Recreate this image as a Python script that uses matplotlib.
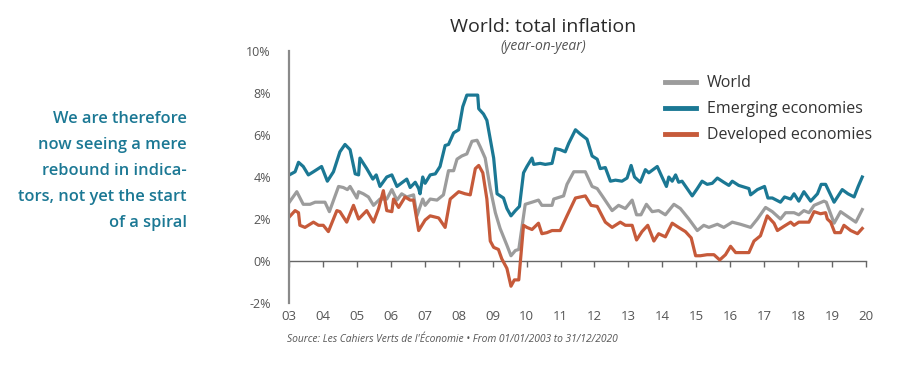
import matplotlib
matplotlib.use('Agg')
import matplotlib.pyplot as plt

## series (x = fractional year, y = % yoy)
emerging_x = [2003.01, 2003.18, 2003.28, 2003.42, 2003.57, 2003.72, 2003.96, 2004.13, 2004.31, 2004.50,
              2004.65, 2004.80, 2004.95, 2005.05, 2005.09, 2005.29, 2005.47, 2005.57, 2005.68, 2005.88,
              2006.03, 2006.18, 2006.47, 2006.57, 2006.72, 2006.82, 2006.86, 2006.94, 2007.01, 2007.16,
              2007.31, 2007.45, 2007.60, 2007.70, 2007.85, 2008.00, 2008.12, 2008.24, 2008.56, 2008.59,
              2008.73, 2008.83, 2009.03, 2009.13, 2009.32, 2009.42, 2009.54, 2009.67, 2009.79, 2009.91,
              2010.01, 2010.16, 2010.21, 2010.40, 2010.55, 2010.75, 2010.85, 2010.99, 2011.14, 2011.24,
              2011.44, 2011.58, 2011.78, 2011.93, 2012.08, 2012.17, 2012.32, 2012.47, 2012.62, 2012.81,
              2012.96, 2013.08, 2013.18, 2013.35, 2013.50, 2013.60, 2013.85, 2013.99, 2014.12, 2014.19,
              2014.29, 2014.39, 2014.48, 2014.58, 2014.88, 2015.03, 2015.17, 2015.32, 2015.47, 2015.62,
              2015.81, 2015.96, 2016.06, 2016.25, 2016.55, 2016.60, 2016.80, 2017.01, 2017.11, 2017.24,
              2017.48, 2017.60, 2017.78, 2017.88, 2018.02, 2018.17, 2018.37, 2018.57, 2018.68, 2018.81,
              2019.06, 2019.30, 2019.47, 2019.65, 2019.77, 2019.89]
emerging_y = [4.1, 4.25, 4.7, 4.5, 4.1, 4.25, 4.5, 3.8, 4.25, 5.2,
              5.55, 5.3, 4.15, 4.1, 4.9, 4.4, 3.9, 4.1, 3.55, 4.0,
              4.1, 3.55, 3.9, 3.5, 3.75, 3.45, 3.2, 4.0, 3.7, 4.1,
              4.15, 4.5, 5.5, 5.55, 6.1, 6.25, 7.35, 7.9, 7.9, 7.25,
              7.0, 6.7, 4.9, 3.2, 3.0, 2.5, 2.15, 2.4, 2.6, 4.2,
              4.5, 4.9, 4.6, 4.65, 4.6, 4.65, 5.35, 5.3, 5.2, 5.6,
              6.25, 6.05, 5.8, 5.0, 4.85, 4.4, 4.45, 3.8, 3.85, 3.8,
              3.95, 4.55, 4.0, 3.75, 4.35, 4.2, 4.5, 4.0, 3.55, 4.0,
              3.8, 4.1, 3.75, 3.8, 3.1, 3.45, 3.8, 3.65, 3.7, 3.95,
              3.75, 3.6, 3.8, 3.6, 3.45, 3.15, 3.4, 3.55, 3.0, 3.0,
              2.8, 3.05, 2.95, 3.2, 2.85, 3.3, 2.85, 3.2, 3.65, 3.65,
              2.8, 3.4, 3.2, 3.05, 3.55, 4.0]

world_x = [2003.01, 2003.23, 2003.42, 2003.62, 2003.77, 2004.06, 2004.19, 2004.46, 2004.60, 2004.72,
           2004.80, 2005.00, 2005.05, 2005.19, 2005.34, 2005.49, 2005.68, 2005.88, 2006.03, 2006.18,
           2006.32, 2006.47, 2006.67, 2006.77, 2006.94, 2007.01, 2007.16, 2007.36, 2007.55, 2007.70,
           2007.85, 2007.95, 2008.09, 2008.24, 2008.39, 2008.54, 2008.63, 2008.78, 2008.93, 2009.08,
           2009.22, 2009.42, 2009.54, 2009.67, 2009.77, 2009.96, 2010.16, 2010.35, 2010.45, 2010.75,
           2010.80, 2011.09, 2011.19, 2011.39, 2011.73, 2011.93, 2012.08, 2012.27, 2012.52, 2012.71,
           2012.91, 2013.11, 2013.24, 2013.37, 2013.53, 2013.70, 2013.89, 2014.09, 2014.34, 2014.53,
           2014.78, 2015.03, 2015.22, 2015.37, 2015.62, 2015.81, 2016.06, 2016.30, 2016.60, 2016.80,
           2017.04, 2017.24, 2017.48, 2017.63, 2017.88, 2018.02, 2018.17, 2018.32, 2018.47, 2018.76,
           2018.83, 2019.06, 2019.25, 2019.70, 2019.89]
world_y = [2.8, 3.3, 2.7, 2.7, 2.8, 2.8, 2.35, 3.55, 3.5, 3.4,
           3.55, 3.0, 3.3, 3.2, 3.05, 2.65, 2.95, 2.95, 3.4, 2.9,
           3.2, 3.05, 3.15, 2.15, 2.95, 2.65, 2.95, 2.9, 3.15, 4.3,
           4.3, 4.85, 5.0, 5.1, 5.7, 5.75, 5.45, 4.9, 3.45, 2.3,
           1.55, 0.75, 0.25, 0.5, 0.55, 2.7, 2.8, 2.9, 2.65, 2.65,
           2.95, 3.1, 3.65, 4.25, 4.25, 3.55, 3.45, 3.0, 2.4, 2.65,
           2.5, 2.9, 2.2, 2.2, 2.7, 2.35, 2.4, 2.2, 2.7, 2.5,
           2.0, 1.45, 1.7, 1.6, 1.75, 1.6, 1.85, 1.75, 1.6, 2.0,
           2.55, 2.35, 2.0, 2.3, 2.3, 2.2, 2.4, 2.3, 2.65, 2.85,
           2.8, 1.8, 2.35, 1.85, 2.45]

developed_x = [2003.01, 2003.18, 2003.28, 2003.32, 2003.47, 2003.72, 2003.87, 2004.01, 2004.16, 2004.41,
               2004.50, 2004.70, 2004.90, 2005.05, 2005.29, 2005.49, 2005.64, 2005.78, 2005.88, 2006.03,
               2006.08, 2006.23, 2006.42, 2006.57, 2006.67, 2006.82, 2007.01, 2007.16, 2007.41, 2007.60,
               2007.75, 2008.00, 2008.19, 2008.34, 2008.49, 2008.59, 2008.71, 2008.83, 2008.93, 2009.03,
               2009.17, 2009.27, 2009.42, 2009.54, 2009.64, 2009.77, 2009.91, 2010.01, 2010.16, 2010.35,
               2010.45, 2010.60, 2010.75, 2010.99, 2011.19, 2011.44, 2011.73, 2011.90, 2012.08, 2012.32,
               2012.52, 2012.76, 2012.91, 2013.11, 2013.24, 2013.40, 2013.57, 2013.75, 2013.89, 2014.09,
               2014.29, 2014.48, 2014.68, 2014.85, 2014.98, 2015.12, 2015.32, 2015.52, 2015.69, 2015.86,
               2016.01, 2016.16, 2016.55, 2016.70, 2016.89, 2017.09, 2017.29, 2017.39, 2017.58, 2017.78,
               2017.88, 2018.02, 2018.32, 2018.47, 2018.66, 2018.81, 2018.86, 2018.96, 2019.08, 2019.25,
               2019.35, 2019.55, 2019.75, 2019.89]
developed_y = [2.1, 2.4, 2.3, 1.7, 1.6, 1.85, 1.7, 1.7, 1.4, 2.4,
               2.35, 1.85, 2.65, 2.0, 2.4, 1.85, 2.5, 3.35, 2.4, 2.35,
               2.95, 2.55, 3.05, 2.9, 2.9, 1.45, 1.95, 2.15, 2.05, 1.6,
               2.95, 3.3, 3.2, 3.15, 4.4, 4.55, 4.2, 2.95, 0.95, 0.65,
               0.55, 0.1, -0.35, -1.2, -0.9, -0.9, 1.7, 1.6, 1.5, 1.8,
               1.3, 1.35, 1.45, 1.45, 2.15, 3.0, 3.1, 2.65, 2.6, 1.85,
               1.6, 1.85, 1.7, 1.7, 1.0, 1.4, 1.7, 0.95, 1.3, 1.15,
               1.8, 1.6, 1.4, 1.1, 0.25, 0.25, 0.3, 0.3, 0.05, 0.3,
               0.7, 0.4, 0.4, 0.95, 1.2, 2.15, 1.8, 1.45, 1.65, 1.85,
               1.7, 1.85, 1.85, 2.35, 2.25, 2.3, 2.0, 1.85, 1.35, 1.35,
               1.7, 1.45, 1.3, 1.55]

years = list(range(2003, 2021))
year_labels = ['%02d' % (y % 100) for y in years]
yticks = [-2, 0, 2, 4, 6, 8, 10]

teal = '#1b7894'
grey = '#9c9c9c'
rust = '#c65a3a'

plt.rcParams['font.family'] = ['Open Sans', 'DejaVu Sans']

fig = plt.figure(figsize=(9.07, 3.85), dpi=100)
ax = fig.add_axes([289/907, 1-303/385, (866-289)/907, (303-51)/385])

ax.plot(world_x, world_y, color=grey, lw=2.3, solid_joinstyle='round', label='World')
ax.plot(emerging_x, emerging_y, color=teal, lw=2.3, solid_joinstyle='round', label='Emerging economies')
ax.plot(developed_x, developed_y, color=rust, lw=2.3, solid_joinstyle='round', label='Developed economies')

ax.set_xlim(2003, 2020)
ax.set_ylim(-2, 10)
ax.set_yticks(yticks)
ax.set_yticklabels(['%d%%' % v for v in yticks])
ax.set_xticks(years)
ax.set_xticklabels(year_labels)
ax.tick_params(axis='y', length=0, pad=13, labelsize=9, labelcolor='#555555')
ax.tick_params(axis='x', length=0, pad=5, labelsize=9.5, labelcolor='#555555')

for s in ['top', 'right', 'bottom']:
    ax.spines[s].set_visible(False)
ax.spines['left'].set_color('#8a8a8a')
ax.spines['left'].set_linewidth(1.6)

# zero line with year ticks
zero = ax.secondary_xaxis(2/12)
zero.set_xticks(years)
zero.tick_params(axis='x', direction='out', length=4, width=1, color='#666666', labelbottom=False)
zero.spines['bottom'].set_color('#666666')
zero.spines['bottom'].set_linewidth(1)

leg = ax.legend(loc='upper left', bbox_to_anchor=(0.627, 0.96), frameon=False,
                prop={'size': 11.5}, handlelength=1.9, handletextpad=0.7, labelspacing=0.62)
for t in leg.get_texts():
    t.set_color('#333333')
for h in leg.get_lines():
    h.set_linewidth(3.5)

fig.text(543/907, 1-27/385, 'World: total inflation', ha='center', va='center',
         fontsize=14, color='#2a2a2a')
fig.text(543/907, 1-46/385, '(year-on-year)', ha='center', va='center',
         fontsize=10, style='italic', color='#555555')

fig.text(187/907, 1-171/385,
         'We are therefore\nnow seeing a mere\nrebound in indica-\ntors, not yet the start\nof a spiral',
         ha='right', va='center', fontsize=11.8, weight='semibold', color=teal, linespacing=1.85)

fig.text(287/907, 1-340/385,
         "Source: Les Cahiers Verts de l'Économie • From 01/01/2003 to 31/12/2020",
         ha='left', va='center', fontsize=7.4, style='italic', color='#555555')

fig.savefig('out.png', dpi=100)
